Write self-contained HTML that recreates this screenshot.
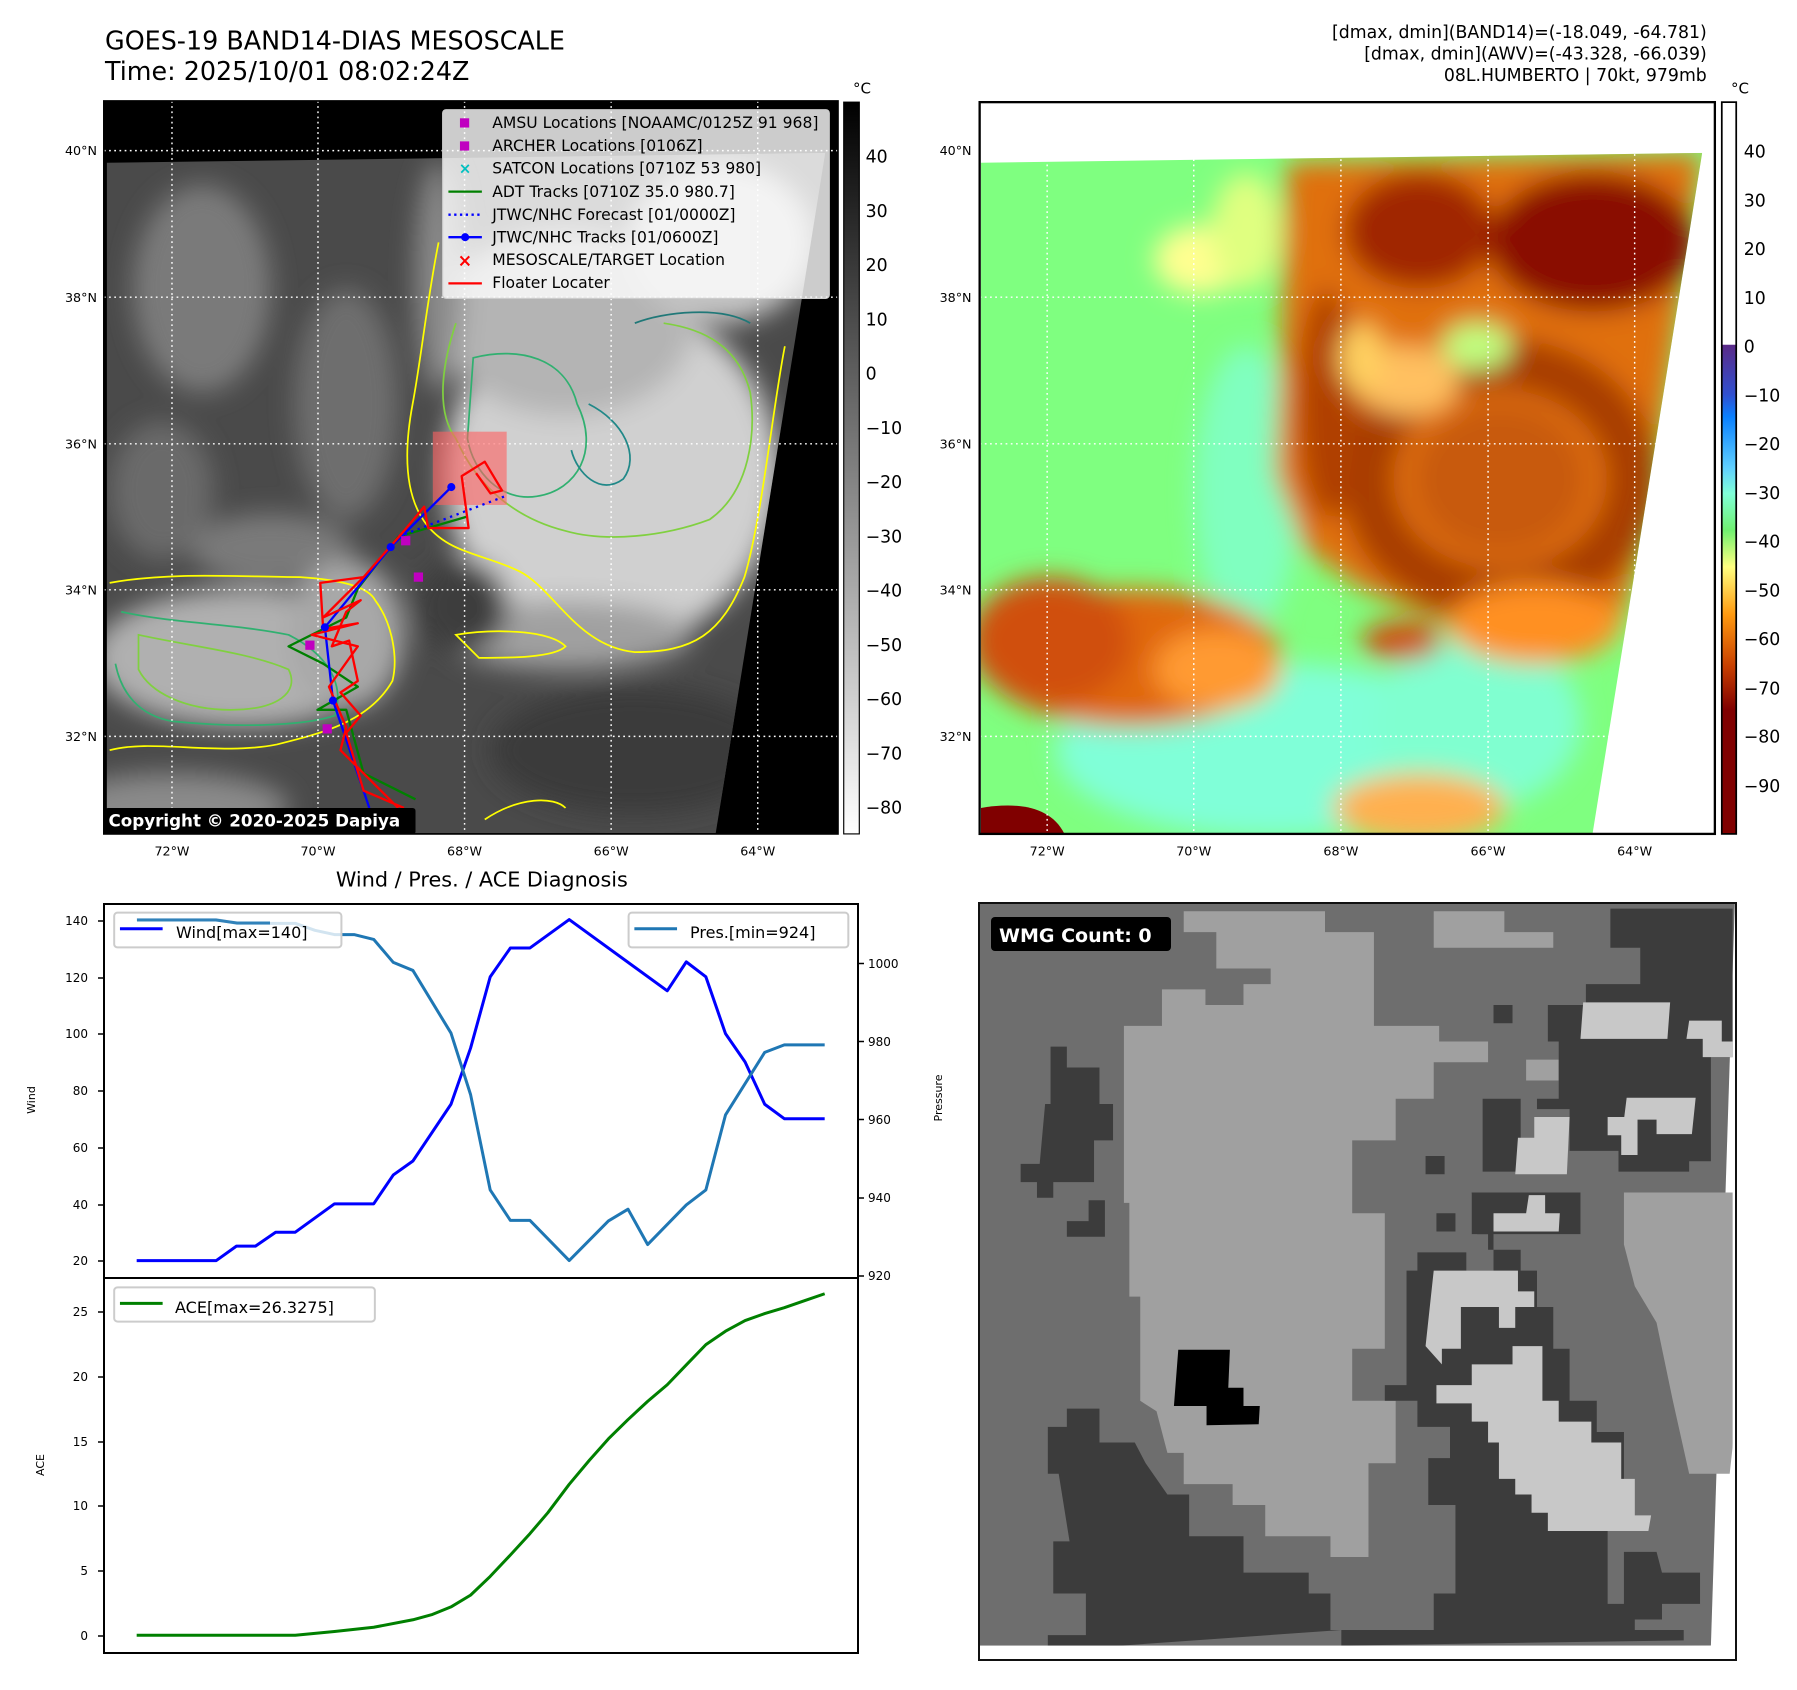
<!DOCTYPE html>
<html><head><meta charset="utf-8"><style>html,body{margin:0;padding:0;background:#fff}svg{display:block}text{font-family:"DejaVu Sans","Liberation Sans",sans-serif}</style></head><body>
<svg width="1797" height="1690" viewBox="0 0 1797 1690" xmlns="http://www.w3.org/2000/svg">
<defs>
<filter id="b" x="-50%" y="-50%" width="200%" height="200%"><feGaussianBlur stdDeviation="22"/></filter>
<filter id="b2" x="-50%" y="-50%" width="200%" height="200%"><feGaussianBlur stdDeviation="10"/></filter>
<clipPath id="cL"><polygon points="185,282 1430,265 1240,1445 185,1445"/></clipPath>
<clipPath id="cR"><polygon points="140,282 1390,265 1200,1445 140,1445"/></clipPath>
<linearGradient id="gcb" x1="0" y1="0" x2="0" y2="1"><stop offset="0" stop-color="#000"/><stop offset="1" stop-color="#fff"/></linearGradient>
<linearGradient id="rcb" x1="0" y1="0" x2="0" y2="1">
<stop offset="0" stop-color="#fff"/><stop offset="0.331" stop-color="#fff"/><stop offset="0.332" stop-color="#5a2a88"/>
<stop offset="0.40" stop-color="#3050d0"/><stop offset="0.43" stop-color="#0a80ff"/><stop offset="0.50" stop-color="#60d0ff"/>
<stop offset="0.535" stop-color="#80ffd8"/><stop offset="0.585" stop-color="#70f070"/><stop offset="0.635" stop-color="#ffff80"/>
<stop offset="0.70" stop-color="#ff9a10"/><stop offset="0.77" stop-color="#c84000"/><stop offset="0.83" stop-color="#800000"/><stop offset="1" stop-color="#800000"/></linearGradient>
</defs>
<rect width="1797" height="1690" fill="#fff"/>

<!-- LEFT MAP -->
<g transform="scale(0.5771)">
<text x="182" y="86" font-size="44">GOES-19 BAND14-DIAS MESOSCALE</text>
<text x="182" y="139" font-size="44">Time: 2025/10/01 08:02:24Z</text>
<rect x="180" y="175" width="1272" height="1270" fill="#000"/>
<g clip-path="url(#cL)">
<rect x="180" y="260" width="1272" height="1190" fill="#4a4a4a"/>
<g filter="url(#b)">
<ellipse cx="350" cy="500" rx="120" ry="180" fill="#7a7a7a"/>
<ellipse cx="600" cy="700" rx="90" ry="200" fill="#6e6e6e"/>
<ellipse cx="280" cy="850" rx="90" ry="120" fill="#6a6a6a"/>
<ellipse cx="470" cy="950" rx="140" ry="60" fill="#7a7a7a"/>
<ellipse cx="420" cy="1140" rx="260" ry="120" fill="#b0b0b0"/>
<ellipse cx="600" cy="1100" rx="100" ry="130" fill="#a8a8a8"/>
<ellipse cx="1060" cy="820" rx="290" ry="300" fill="#d0d0d0"/>
<ellipse cx="980" cy="560" rx="220" ry="160" fill="#b4b4b4"/>
<ellipse cx="1250" cy="420" rx="160" ry="140" fill="#c4c4c4"/>
<ellipse cx="980" cy="1100" rx="220" ry="60" fill="#a0a0a0"/>
<ellipse cx="1100" cy="1300" rx="250" ry="110" fill="#3a3a3a"/>
<ellipse cx="800" cy="1050" rx="80" ry="80" fill="#3c3c3c"/>
<ellipse cx="760" cy="480" rx="40" ry="200" fill="#8a8a8a"/>
<ellipse cx="300" cy="1400" rx="200" ry="60" fill="#8a8a8a"/>
</g>
</g>
<g fill="none" stroke-width="3">
<path d="M760,420 C740,520 730,620 715,700 C700,780 700,860 740,910 C780,960 840,960 900,990 C960,1020 1000,1120 1100,1130 C1200,1130 1250,1100 1290,1000 C1320,900 1340,700 1360,600" stroke="#ffff00"/>
<path d="M190,1010 C300,990 420,1000 520,1000 C600,1005 640,1020 650,1040 C680,1080 690,1140 680,1180 C640,1250 560,1270 480,1290 C380,1310 260,1280 190,1300" stroke="#ffff00"/>
<path d="M790,1100 C850,1090 950,1090 980,1120 C960,1140 880,1140 830,1140 Z" stroke="#ffff00"/>
<path d="M840,1420 C900,1380 960,1380 980,1400" stroke="#ffff00"/>
<path d="M790,560 C760,650 760,720 790,760 C830,850 900,900 980,920 C1050,940 1150,930 1230,900 C1300,850 1310,750 1300,680 C1280,600 1220,570 1150,560" stroke="#80d040"/>
<path d="M820,620 C900,600 980,620 1000,700 C1040,780 1000,850 930,860 C870,870 820,820 810,760 Z" stroke="#30b070"/>
<path d="M1020,700 C1080,730 1110,790 1080,830 C1040,860 1000,820 990,780" stroke="#208888"/>
<path d="M1100,560 C1150,540 1250,530 1300,560" stroke="#207878"/>
<path d="M210,1060 C300,1080 400,1080 500,1100 C560,1130 600,1180 580,1240 C520,1260 400,1260 300,1250 C240,1240 210,1200 200,1150" stroke="#30b070"/>
<path d="M240,1100 C330,1120 430,1130 500,1160 C520,1200 480,1230 400,1230 C320,1230 260,1200 240,1160 Z" stroke="#80d040"/>
</g>
<g stroke="#fff" stroke-width="2.5" stroke-dasharray="3,6" fill="none">
<path d="M298,175V1445M551,175V1445M805,175V1445M1059,175V1445M1313,175V1445"/>
<path d="M180,261H1452M180,515H1452M180,769H1452M180,1022H1452M180,1276H1452"/>
</g>
<rect x="750" y="748" width="128" height="127" fill="#ff6060" opacity="0.6"/>
<g fill="none" stroke-width="4" stroke-linejoin="round">
<path d="M720,1385 L630,1340 L600,1230 L550,1230 L620,1190 L560,1150 L500,1120 L600,1070 L620,1020 L690,930 L810,895" stroke="#008000"/>
<path d="M690,930 L880,858" stroke="#0000ff" stroke-dasharray="4,8"/>
<path d="M640,1400 L577,1214 L563,1087 L677,948 L782,844" stroke="#0000ff"/>
<path d="M690,1400 L620,1330 L590,1300 L600,1260 L570,1190 L620,1120 L540,1100 L620,1080 L560,1090 L555,1010 L630,1000 L560,1070 L625,1040 L600,1060 L575,1120 L605,1110 L620,1180 L590,1200 L625,1240 L600,1270 L630,1370 L700,1400 M630,1000 L700,920 L735,878 L742,915 L812,915 L800,825 L840,800 L870,850 L850,855 L825,820" stroke="#ff0000"/>
</g>
<g fill="#0000ff"><circle cx="782" cy="844" r="7"/><circle cx="677" cy="948" r="7"/><circle cx="563" cy="1087" r="7"/><circle cx="577" cy="1214" r="7"/></g>
<g fill="#c000c0"><rect x="695" y="929" width="16" height="16"/><rect x="717" y="992" width="16" height="16"/><rect x="559" y="1255" width="16" height="16"/><rect x="529" y="1110" width="16" height="16"/></g>
<rect x="182" y="1400" width="538" height="46" rx="5" fill="#000"/>
<text x="188" y="1432" font-size="29" font-weight="bold" fill="#fff">Copyright © 2020-2025 Dapiya</text>
<rect x="180" y="175" width="1272" height="1270" fill="none" stroke="#000" stroke-width="3"/>
<rect x="767" y="190" width="670" height="327" rx="6" fill="#fff" fill-opacity="0.8" stroke="#ccc" stroke-width="2"/>
<g font-size="27">
<rect x="797" y="205" width="16" height="16" fill="#c000c0"/><text x="853" y="222">AMSU Locations [NOAAMC/0125Z 91 968]</text>
<rect x="797" y="245" width="16" height="16" fill="#c000c0"/><text x="853" y="262">ARCHER Locations [0106Z]</text>
<text x="795" y="301" fill="#00c0c0" font-size="26" font-weight="bold">×</text><text x="853" y="301">SATCON Locations [0710Z 53 980]</text>
<line x1="777" y1="332" x2="835" y2="332" stroke="#008000" stroke-width="4"/><text x="853" y="341">ADT Tracks [0710Z 35.0 980.7]</text>
<line x1="777" y1="372" x2="835" y2="372" stroke="#0000ff" stroke-width="4" stroke-dasharray="4,6"/><text x="853" y="381">JTWC/NHC Forecast [01/0000Z]</text>
<line x1="777" y1="411" x2="835" y2="411" stroke="#0000ff" stroke-width="4"/><circle cx="806" cy="411" r="7" fill="#0000ff"/><text x="853" y="420">JTWC/NHC Tracks [01/0600Z]</text>
<text x="793" y="462" fill="#ff0000" font-weight="bold" font-size="30">×</text><text x="853" y="459">MESOSCALE/TARGET Location</text>
<line x1="777" y1="491" x2="835" y2="491" stroke="#ff0000" stroke-width="4"/><text x="853" y="499">Floater Locater</text>
</g>
<g font-size="22" text-anchor="end"><text x="168" y="269">40°N</text><text x="168" y="523">38°N</text><text x="168" y="777">36°N</text><text x="168" y="1030">34°N</text><text x="168" y="1284">32°N</text></g>
<g font-size="22" text-anchor="middle"><text x="298" y="1482">72°W</text><text x="551" y="1482">70°W</text><text x="805" y="1482">68°W</text><text x="1059" y="1482">66°W</text><text x="1313" y="1482">64°W</text></g>
<rect x="1462" y="177" width="27" height="1268" fill="url(#gcb)" stroke="#000" stroke-width="2"/>
<text x="1478" y="162" font-size="26">°C</text>
<g font-size="30"><text x="1500" y="282">40</text><text x="1500" y="376">30</text><text x="1500" y="470">20</text><text x="1500" y="564">10</text><text x="1500" y="658">0</text><text x="1500" y="752">−10</text><text x="1500" y="846">−20</text><text x="1500" y="940">−30</text><text x="1500" y="1034">−40</text><text x="1500" y="1128">−50</text><text x="1500" y="1222">−60</text><text x="1500" y="1316">−70</text><text x="1500" y="1410">−80</text></g>
<text x="835" y="1536" font-size="36" text-anchor="middle">Wind / Pres. / ACE Diagnosis</text>
</g>

<!-- RIGHT MAP -->
<g transform="translate(900,0) scale(0.5771)">
<g font-size="30" text-anchor="end"><text x="1398" y="66">[dmax, dmin](BAND14)=(-18.049, -64.781)</text><text x="1398" y="103">[dmax, dmin](AWV)=(-43.328, -66.039)</text><text x="1398" y="140">08L.HUMBERTO | 70kt, 979mb</text></g>
<g clip-path="url(#cR)">
<rect x="130" y="260" width="1300" height="1190" fill="#7fff80"/>
<g filter="url(#b)">
<ellipse cx="600" cy="850" rx="90" ry="250" fill="#80ffc0"/>
<ellipse cx="650" cy="1300" rx="380" ry="150" fill="#80ffd8"/>
<ellipse cx="1000" cy="1250" rx="180" ry="150" fill="#80ffd0"/>
<ellipse cx="520" cy="450" rx="80" ry="60" fill="#ffff90"/>
<ellipse cx="600" cy="400" rx="60" ry="100" fill="#e0ff80"/>
<path d="M670,280 L1390,265 L1300,900 L1250,1080 L1100,1120 L950,1080 L800,1020 L700,950 L650,820 L660,600 Z" fill="#e07010"/>
<ellipse cx="1040" cy="830" rx="230" ry="200" fill="none" stroke="#a83c04" stroke-width="90"/>
<ellipse cx="1040" cy="830" rx="150" ry="130" fill="#c85a10"/>
<ellipse cx="1200" cy="420" rx="180" ry="120" fill="#8a0a00"/>
<ellipse cx="900" cy="400" rx="130" ry="100" fill="#a02800"/>
<ellipse cx="740" cy="700" rx="50" ry="200" fill="#b04000"/>
<ellipse cx="880" cy="660" rx="90" ry="60" fill="#ffc060"/>
<ellipse cx="1000" cy="600" rx="60" ry="40" fill="#c0ff80"/>
<ellipse cx="800" cy="620" rx="40" ry="60" fill="#ffd060"/>
<ellipse cx="1100" cy="1080" rx="150" ry="70" fill="#ff9020"/>
<ellipse cx="400" cy="1140" rx="260" ry="120" fill="#e06808"/>
<ellipse cx="260" cy="1110" rx="140" ry="110" fill="#d05008"/>
<ellipse cx="550" cy="1160" rx="110" ry="70" fill="#ff9a30"/>
<ellipse cx="870" cy="1110" rx="70" ry="35" fill="#d05008"/>
<ellipse cx="900" cy="1400" rx="150" ry="60" fill="#ffb050"/>
</g>
<path d="M140,1400 C200,1390 260,1395 285,1445 L140,1445 Z" fill="#800000"/>
</g>
<g stroke="#fff" stroke-width="2.5" stroke-dasharray="3,6" fill="none">
<path d="M255,177V1445M509,177V1445M764,177V1445M1019,177V1445M1273,177V1445"/>
<path d="M138,261H1412M138,515H1412M138,769H1412M138,1022H1412M138,1276H1412"/>
</g>
<rect x="138" y="177" width="1274" height="1268" fill="none" stroke="#000" stroke-width="4"/>
<g font-size="22" text-anchor="end"><text x="124" y="269">40°N</text><text x="124" y="523">38°N</text><text x="124" y="777">36°N</text><text x="124" y="1030">34°N</text><text x="124" y="1284">32°N</text></g>
<g font-size="22" text-anchor="middle"><text x="255" y="1482">72°W</text><text x="509" y="1482">70°W</text><text x="764" y="1482">68°W</text><text x="1019" y="1482">66°W</text><text x="1273" y="1482">64°W</text></g>
<rect x="1424" y="177" width="25" height="1268" fill="url(#rcb)" stroke="#000" stroke-width="3"/>
<text x="1440" y="162" font-size="26">°C</text>
<g font-size="30"><text x="1462" y="273">40</text><text x="1462" y="358">30</text><text x="1462" y="442">20</text><text x="1462" y="527">10</text><text x="1462" y="611">0</text><text x="1462" y="696">−10</text><text x="1462" y="780">−20</text><text x="1462" y="865">−30</text><text x="1462" y="949">−40</text><text x="1462" y="1034">−50</text><text x="1462" y="1118">−60</text><text x="1462" y="1203">−70</text><text x="1462" y="1287">−80</text><text x="1462" y="1372">−90</text></g>
</g>

<!-- BOTTOM LEFT CHART -->
<g transform="translate(0,850) scale(0.5767,0.5353)" fill="none" stroke-linejoin="round">
<polyline vector-effect="non-scaling-stroke" stroke="#0000ff" stroke-width="3" points="237,767 375,767 410,740 443,740 478,714 512,714 580,661 648,661 682,607 716,581 782,475 816,370 850,237 885,183 919,183 987,130 1157,263 1190,209 1224,237 1258,343 1292,396 1326,475 1360,502 1430,502"/>
<polyline vector-effect="non-scaling-stroke" stroke="#1f77b4" stroke-width="3" points="237,130 375,130 410,137 512,137 546,150 580,158 614,158 648,167 682,210 716,225 782,342 816,457 850,635 885,692 919,692 987,767 1055,693 1089,671 1123,737 1190,663 1224,635 1258,495 1326,378 1360,364 1430,364"/>
<polyline vector-effect="non-scaling-stroke" stroke="#008000" stroke-width="3" points="237,1467 512,1467 580,1460 648,1452 716,1438 750,1428 782,1414 816,1392 850,1357 885,1317 919,1277 950,1238 987,1185 1022,1140 1055,1100 1089,1064 1123,1030 1157,999 1190,962 1224,924 1258,899 1292,879 1326,866 1360,855 1395,842 1430,829"/>
<rect x="198" y="117" width="394" height="65" rx="6" fill="#fff" fill-opacity="0.8" stroke="#ccc" stroke-width="2" vector-effect="non-scaling-stroke"/>
<rect x="1090" y="117" width="381" height="65" rx="6" fill="#fff" fill-opacity="0.8" stroke="#ccc" stroke-width="2" vector-effect="non-scaling-stroke"/>
<rect x="198" y="817" width="452" height="64" rx="6" fill="#fff" fill-opacity="0.8" stroke="#ccc" stroke-width="2" vector-effect="non-scaling-stroke"/>
<line x1="208" y1="147" x2="282" y2="147" stroke="#0000ff" stroke-width="3" vector-effect="non-scaling-stroke"/>
<line x1="1100" y1="147" x2="1174" y2="147" stroke="#1f77b4" stroke-width="3" vector-effect="non-scaling-stroke"/>
<line x1="208" y1="847" x2="282" y2="847" stroke="#008000" stroke-width="3" vector-effect="non-scaling-stroke"/>
</g>
<polyline fill="none" stroke="#1f77b4" stroke-width="3" points="137,920 216,920 237,923 270,923" opacity="0.9"/>
<rect x="104" y="904" width="754" height="749" fill="none" stroke="#000" stroke-width="2"/>
<line x1="104" y1="1278" x2="858" y2="1278" stroke="#000" stroke-width="2"/>
<g font-size="16">
<text x="176" y="938">Wind[max=140]</text>
<text x="690" y="938">Pres.[min=924]</text>
<text x="175" y="1313">ACE[max=26.3275]</text>
</g>
<g font-size="12" text-anchor="end" fill="#000">
<text x="88" y="925">140</text><text x="88" y="982">120</text><text x="88" y="1038">100</text><text x="88" y="1095">80</text><text x="88" y="1152">60</text><text x="88" y="1209">40</text><text x="88" y="1265">20</text>
<text x="88" y="1316">25</text><text x="88" y="1381">20</text><text x="88" y="1446">15</text><text x="88" y="1510">10</text><text x="88" y="1575">5</text><text x="88" y="1640">0</text>
</g>
<g stroke="#000" stroke-width="1.5">
<path d="M98,921H104M98,978H104M98,1034H104M98,1091H104M98,1148H104M98,1205H104M98,1261H104M98,1312H104M98,1377H104M98,1442H104M98,1506H104M98,1571H104M98,1636H104"/>
<path d="M858,963.5H864M858,1041.5H864M858,1119.5H864M858,1198H864M858,1276H864"/>
</g>
<g font-size="12"><text x="868" y="968">1000</text><text x="868" y="1046">980</text><text x="868" y="1124">960</text><text x="868" y="1202">940</text><text x="868" y="1280">920</text></g>
<text font-size="11" transform="translate(35,1100) rotate(-90)" text-anchor="middle">Wind</text>
<text font-size="11" transform="translate(942,1098) rotate(-90)" text-anchor="middle">Pressure</text>
<text font-size="11" transform="translate(44,1465) rotate(-90)" text-anchor="middle">ACE</text>

<!-- BOTTOM RIGHT WMG -->
<g transform="translate(950,880) scale(0.5435,0.5208)">
<polygon points="55,45 1444,45 1400,1470 55,1490" fill="#6e6e6e"/>
<path d="M430,60 L690,60 L690,100 L780,100 L780,280 L900,280 L900,310 L990,310 L990,350 L890,350 L890,420 L820,420 L820,500 L740,500 L740,640 L800,640 L800,900 L740,900 L740,1000 L820,1000 L820,1120 L770,1120 L770,1300 L700,1300 L700,1260 L580,1260 L580,1200 L520,1200 L520,1160 L430,1160 L430,1100 L400,1100 L380,1020 L350,1000 L350,800 L330,800 L330,620 L320,620 L320,280 L390,280 L390,210 L470,210 L470,240 L540,240 L540,200 L590,200 L590,170 L490,170 L490,100 L430,100 Z" fill="#a0a0a0"/>
<path d="M890,60 L1020,60 L1020,100 L1110,100 L1110,130 L890,130 Z M1060,345 L1120,345 L1120,385 L1060,385 Z M1240,600 L1440,600 L1440,1140 L1360,1140 L1330,1000 L1300,850 L1260,780 L1240,700 Z" fill="#a0a0a0"/>
<g fill="#3c3c3c">
<path d="M1215,55 L1440,55 L1440,340 L1400,340 L1400,540 L1360,540 L1360,560 L1230,560 L1230,520 L1140,520 L1140,440 L1080,440 L1080,420 L1050,420 L1050,560 L980,560 L980,420 L1120,420 L1120,310 L1100,310 L1100,240 L1170,240 L1170,200 L1270,200 L1270,130 L1215,130 Z"/>
<path d="M185,320 L215,320 L215,360 L275,360 L275,430 L300,430 L300,500 L265,500 L265,580 L190,580 L190,610 L160,610 L160,580 L130,580 L130,545 L165,545 L175,430 L185,430 Z M255,615 L285,615 L285,685 L215,685 L215,655 L255,655 Z"/>
<path d="M215,1015 L275,1015 L275,1080 L340,1080 L360,1120 L400,1180 L440,1180 L440,1260 L540,1260 L540,1330 L660,1330 L660,1370 L700,1370 L700,1440 L890,1440 L890,1370 L930,1370 L930,1200 L880,1200 L880,1110 L920,1110 L920,1050 L860,1050 L860,1000 L800,1000 L800,970 L840,970 L840,750 L860,750 L860,715 L950,715 L950,750 L1000,750 L1000,600 L960,600 L970,680 L990,680 L990,710 L1050,710 L1050,750 L1080,750 L1080,820 L1110,820 L1110,900 L1140,900 L1140,1000 L1190,1000 L1190,1060 L1240,1060 L1240,1230 L1210,1230 L1210,1390 L1260,1390 L1260,1440 L1350,1440 L1350,1460 L720,1470 L720,1440 L180,1480 L180,1450 L250,1450 L250,1370 L190,1370 L190,1270 L220,1270 L200,1140 L180,1140 L180,1050 L215,1050 Z"/>
<path d="M1240,1290 L1300,1290 L1310,1330 L1380,1330 L1380,1390 L1310,1390 L1310,1420 L1240,1420 Z M1000,240 L1035,240 L1035,275 L1000,275 Z M875,530 L910,530 L910,565 L875,565 Z M895,640 L930,640 L930,675 L895,675 Z M960,600 L1160,600 L1160,680 L960,680 Z"/>
</g>
<g fill="#c8c8c8">
<path d="M1165,235 L1325,235 L1320,305 L1160,305 Z M1360,270 L1420,270 L1420,310 L1440,310 L1440,340 L1385,340 L1385,305 L1355,305 Z M1245,418 L1372,418 L1365,488 L1300,488 L1300,460 L1240,460 Z M1210,455 L1265,455 L1265,528 L1235,528 L1235,490 L1210,490 Z M1075,455 L1140,455 L1135,565 L1040,565 L1045,495 L1075,495 Z M1000,640 L1060,640 L1065,605 L1095,605 L1095,640 L1122,640 L1120,675 L1000,675 Z"/>
<path d="M890,750 L1045,750 L1045,790 L1075,790 L1075,820 L1040,820 L1040,860 L1010,860 L1010,820 L940,820 L940,900 L905,900 L905,930 L875,895 Z"/>
<path d="M1035,895 L1090,895 L1090,1000 L1120,1000 L1120,1040 L1180,1040 L1180,1080 L1235,1080 L1235,1150 L1260,1150 L1260,1220 L1290,1220 L1285,1250 L1100,1250 L1100,1215 L1070,1215 L1070,1180 L1040,1180 L1040,1150 L1010,1150 L1010,1080 L990,1080 L990,1040 L960,1040 L960,1005 L895,1005 L895,970 L960,970 L960,930 L1035,930 Z"/>
</g>
<path d="M420,902 L515,902 L512,975 L540,975 L540,1010 L570,1010 L568,1045 L472,1047 L472,1010 L412,1010 Z" fill="#000"/>
<rect x="55" y="1470" width="1390" height="30" fill="#fff"/>
<path d="M1400,1470 L1444,1050 L1444,1480 Z" fill="#fff"/>
</g>
<rect x="979" y="903" width="757" height="757" fill="none" stroke="#111" stroke-width="2"/>
<rect x="991" y="917" width="180" height="34" rx="4" fill="#000"/>
<text x="999" y="942" font-size="19" font-weight="bold" fill="#fff">WMG Count: 0</text>
</svg>
</body></html>
